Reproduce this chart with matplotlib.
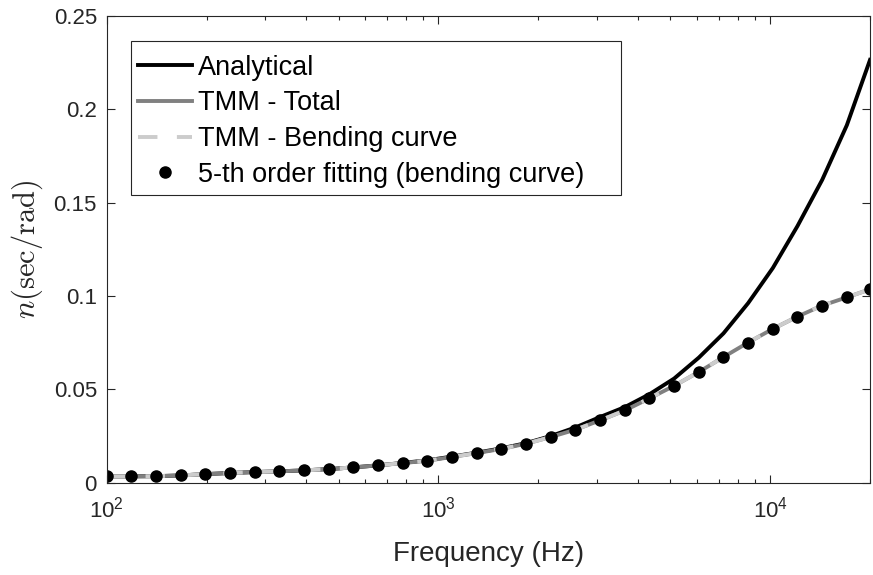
import numpy as np
import matplotlib
matplotlib.use("Agg")
import matplotlib.pyplot as plt
from matplotlib.patches import Rectangle
from matplotlib.ticker import LogLocator, NullFormatter, FixedLocator

# ── Data ─────────────────────────────────────────────────────────────────────

freq = [100, 118.7, 140.8, 167.1, 198.3, 235.4, 279.3, 331.5, 393.4, 466.9,
        554.1, 657.6, 780.4, 926.2, 1099, 1305, 1548, 1838, 2181, 2588,
        3072, 3646, 4327, 5135, 6094, 7232, 8583, 10186, 12089, 14347,
        17027, 20000]

# TMM bending curve (total and bending overlap; fit markers sit on it)
n_tmm = [0.0034, 0.0034, 0.0035, 0.0039, 0.0046, 0.0052, 0.0057, 0.0061,
         0.0066, 0.0073, 0.0082, 0.0093, 0.0105, 0.0118, 0.0138, 0.0159,
         0.0181, 0.0209, 0.0245, 0.0284, 0.0334, 0.0387, 0.0452, 0.0519,
         0.0593, 0.0673, 0.0751, 0.0824, 0.0890, 0.0949, 0.0993, 0.1036]

n_analytical = [0.0034, 0.0034, 0.0035, 0.0039, 0.0046, 0.0052, 0.0057, 0.0061,
                0.0066, 0.0073, 0.0082, 0.0093, 0.0106, 0.0120, 0.0140, 0.0161,
                0.0184, 0.0212, 0.0250, 0.0296, 0.0352, 0.0405, 0.0474, 0.0558,
                0.0670, 0.0800, 0.0962, 0.1150, 0.1375, 0.1622, 0.1915, 0.2265]

y_ticks = [0, 0.05, 0.1, 0.15, 0.2, 0.25]
y_ticklabels = ["0", "0.05", "0.1", "0.15", "0.2", "0.25"]

# ── Style ─────────────────────────────────────────────────────────────────────

plt.rcParams["font.family"] = ["Liberation Sans", "DejaVu Sans"]
plt.rcParams["mathtext.fontset"] = "custom"
plt.rcParams["mathtext.rm"] = "Liberation Sans"
plt.rcParams["mathtext.it"] = "Liberation Sans:italic"
AX_COLOR = "#262626"

fig = plt.figure(figsize=(8.73, 5.75), dpi=100)
ax = fig.add_axes([0.1222, 0.1605, 0.8744, 0.8117])

ax.plot(freq, n_analytical, color="black", lw=2.8, label="Analytical")
ax.plot(freq, n_tmm, color="#808080", lw=2.8, label="TMM - Total")
ax.plot(freq, n_tmm, color="#cccccc", lw=2.8, dashes=(5, 5),
        label="TMM - Bending curve")
ax.plot(freq, n_tmm, "o", color="black", ms=8, ls="none",
        label="5-th order fitting (bending curve)")

ax.set_xscale("log")
ax.set_xlim(100, 20000)
ax.set_ylim(0, 0.25)
ax.set_yticks(y_ticks)
ax.set_yticklabels(y_ticklabels)
ax.xaxis.set_major_locator(FixedLocator([1e2, 1e3, 1e4]))
ax.set_xticklabels([r"$10^2$", r"$10^3$", r"$10^4$"])
ax.xaxis.set_minor_locator(LogLocator(base=10, subs=np.arange(2, 10)))
ax.xaxis.set_minor_formatter(NullFormatter())

ax.tick_params(which="both", direction="in", top=True, right=True,
               colors=AX_COLOR, labelsize=16, width=0.8)
ax.tick_params(which="major", length=5.8)
ax.tick_params(which="minor", length=3.2)
ax.tick_params(axis="y", pad=7)
ax.tick_params(axis="x", pad=10)
for s in ax.spines.values():
    s.set_color(AX_COLOR)
    s.set_linewidth(0.8)

ax.set_xlabel("Frequency (Hz)", fontsize=20, color=AX_COLOR, labelpad=13)
ax.set_ylabel(r"$n(\mathrm{sec/rad})$", fontsize=22, color=AX_COLOR,
              math_fontfamily="cm", labelpad=6)

# legend box drawn separately (MATLAB pads the right side generously)
ax.add_patch(Rectangle((0.0318, 0.6165), 0.6416, 0.3305,
                       transform=ax.transAxes, facecolor="white",
                       edgecolor=AX_COLOR, lw=0.8, zorder=4))
leg = ax.legend(loc="upper left", bbox_to_anchor=(0.041, 0.917),
                borderaxespad=0, borderpad=0, fontsize=19.5, frameon=False,
                numpoints=1, handlelength=2.0, handletextpad=0.22,
                labelspacing=0.36)
leg.set_zorder(5)

fig.savefig("out.png", dpi=100)
